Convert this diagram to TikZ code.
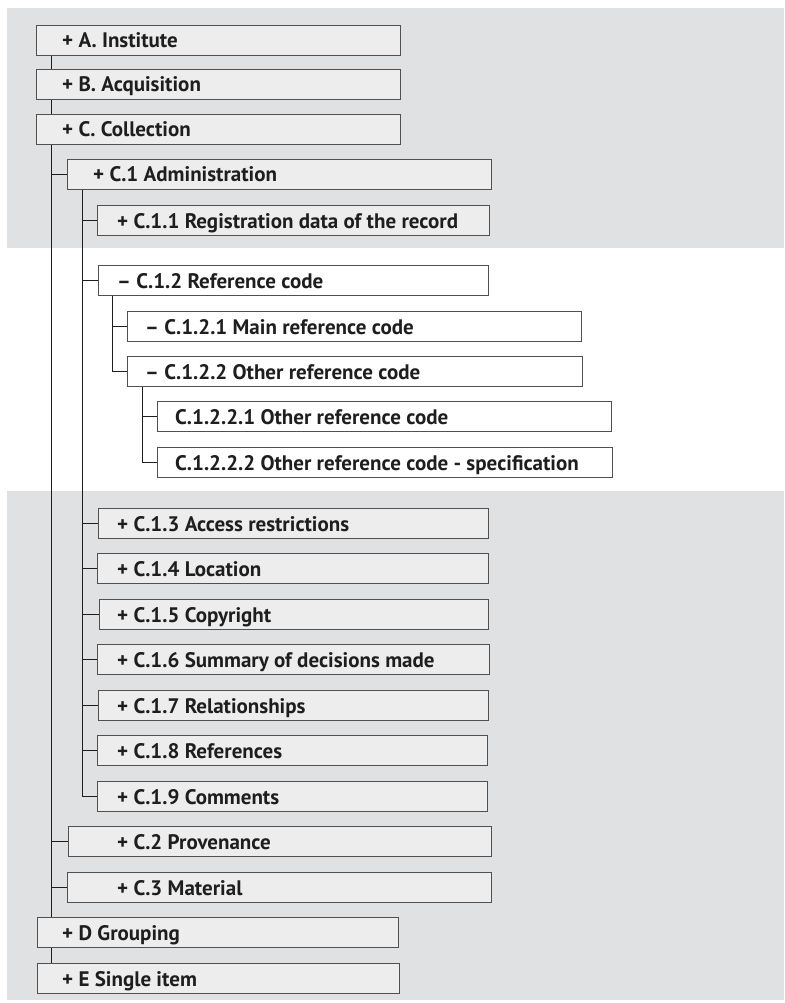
\documentclass[tikz,border=0pt]{standalone}
\usepackage{fontspec}
\setmainfont{PT Sans}
\pgfdeclarelayer{bands}
\pgfdeclarelayer{lines}
\pgfsetlayers{bands,lines,main}
\definecolor{bandgray}{HTML}{E0E1E3}
\definecolor{boxfill}{HTML}{EDEDED}
\definecolor{edge}{HTML}{505050}
\definecolor{ink}{HTML}{1E1E1E}
\tikzset{
  box/.style={draw=edge, line width=1.3pt, fill=boxfill, anchor=north west,
    minimum height=30pt, inner sep=0pt},
  wbox/.style={box, fill=white},
  lbl/.style={anchor=west, inner sep=0pt, text height=14.7pt, text depth=0pt,
    font=\bfseries\fontsize{21}{24}\selectfont, text=ink},
  tree/.style={draw=ink, line width=1pt},
}
\begin{document}
\begin{tikzpicture}[x=1pt, y=-1pt]
\useasboundingbox (0,0) rectangle (784,1003);

% shaded bands behind the tree
\begin{pgfonlayer}{bands}
  \fill[bandgray] (7,8) rectangle (784,248);
  \fill[bandgray] (7,491) rectangle (784,1000);
\end{pgfonlayer}

% top level
\node[box, minimum width=364pt] (A) at (36,25) {};
\node[lbl] (tA) at ([xshift=26pt]A.west) {+ A. Institute};
\node[box, minimum width=364pt] (B) at (36,69) {};
\node[lbl] (tB) at ([xshift=26pt]B.west) {+ B. Acquisition};
\node[box, minimum width=364pt] (C) at (36,114) {};
\node[lbl] (tC) at ([xshift=26pt]C.west) {+ C. Collection};

% collection
\node[box, minimum width=424pt] (C1) at (67,159) {};
\node[lbl] (tC1) at ([xshift=26pt]C1.west) {+ C.1 Administration};
\node[box, minimum width=392pt] (C11) at (97,205) {};
\node[lbl] (tC11) at ([xshift=20pt]C11.west) {+ C.1.1 Registration data of the record};

\node[wbox, minimum width=390pt] (C12) at (98,265) {};
\node[lbl] (tC12) at ([xshift=19pt]C12.west) {– C.1.2 Reference code};
\node[wbox, minimum width=454pt] (C121) at (127,311) {};
\node[lbl] (tC121) at ([xshift=18pt]C121.west) {– C.1.2.1 Main reference code};
\node[wbox, minimum width=455pt] (C122) at (127,356) {};
\node[lbl] (tC122) at ([xshift=18pt]C122.west) {– C.1.2.2 Other reference code};
\node[wbox, minimum width=454pt] (C1221) at (157,401) {};
\node[lbl] (tC1221) at ([xshift=18pt]C1221.west) {C.1.2.2.1 Other reference code};
\node[wbox, minimum width=455pt] (C1222) at (157,447) {};
\node[lbl] (tC1222) at ([xshift=18pt]C1222.west) {C.1.2.2.2 Other reference code - specification};

\node[box, minimum width=390pt] (C13) at (98,508) {};
\node[lbl] (tC13) at ([xshift=19pt]C13.west) {+ C.1.3 Access restrictions};
\node[box, minimum width=391pt] (C14) at (97,553) {};
\node[lbl] (tC14) at ([xshift=20pt]C14.west) {+ C.1.4 Location};
\node[box, minimum width=389pt] (C15) at (99,599) {};
\node[lbl] (tC15) at ([xshift=18pt]C15.west) {+ C.1.5 Copyright};
\node[box, minimum width=392pt] (C16) at (97,644) {};
\node[lbl] (tC16) at ([xshift=20pt]C16.west) {+ C.1.6 Summary of decisions made};
\node[box, minimum width=390pt] (C17) at (98,690) {};
\node[lbl] (tC17) at ([xshift=19pt]C17.west) {+ C.1.7 Relationships};
\node[box, minimum width=390pt] (C18) at (97,735) {};
\node[lbl] (tC18) at ([xshift=20pt]C18.west) {+ C.1.8 References};
\node[box, minimum width=390pt] (C19) at (97,781) {};
\node[lbl] (tC19) at ([xshift=20pt]C19.west) {+ C.1.9 Comments};

\node[box, minimum width=423pt] (C2) at (68,826) {};
\node[lbl] (tC2) at ([xshift=49pt]C2.west) {+ C.2 Provenance};
\node[box, minimum width=424pt] (C3) at (67,872) {};
\node[lbl] (tC3) at ([xshift=50pt]C3.west) {+ C.3 Material};

\node[box, minimum width=361pt] (D) at (37,917) {};
\node[lbl] (tD) at ([xshift=25pt]D.west) {+ D Grouping};
\node[box, minimum width=362pt] (E) at (37,963) {};
\node[lbl] (tE) at ([xshift=25pt]E.west) {+ E Single item};

% tree connectors
\begin{pgfonlayer}{lines}
  % main trunk
  \coordinate (t0) at ([xshift=15pt]A.south west);
  \draw[tree] (t0) -- (t0 |- E.north);
  \foreach \n in {C1,C2,C3} \draw[tree] (t0 |- \n.west) -- (\n.west);
  % administration branch
  \coordinate (t1) at ([xshift=15pt]C1.south west);
  \draw[tree] (t1) |- (C19.west);
  \foreach \n in {C11,C12,C13,C14,C15,C16,C17,C18} \draw[tree] (t1 |- \n.west) -- (\n.west);
  % reference code branch
  \coordinate (t2) at ([xshift=14pt]C12.south west);
  \draw[tree] (t2) |- (C122.west);
  \draw[tree] (t2 |- C121.west) -- (C121.west);
  % other reference code branch
  \coordinate (t3) at ([xshift=15pt]C122.south west);
  \draw[tree] (t3) |- (C1222.west);
  \draw[tree] (t3 |- C1221.west) -- (C1221.west);
\end{pgfonlayer}
\end{tikzpicture}
\end{document}
